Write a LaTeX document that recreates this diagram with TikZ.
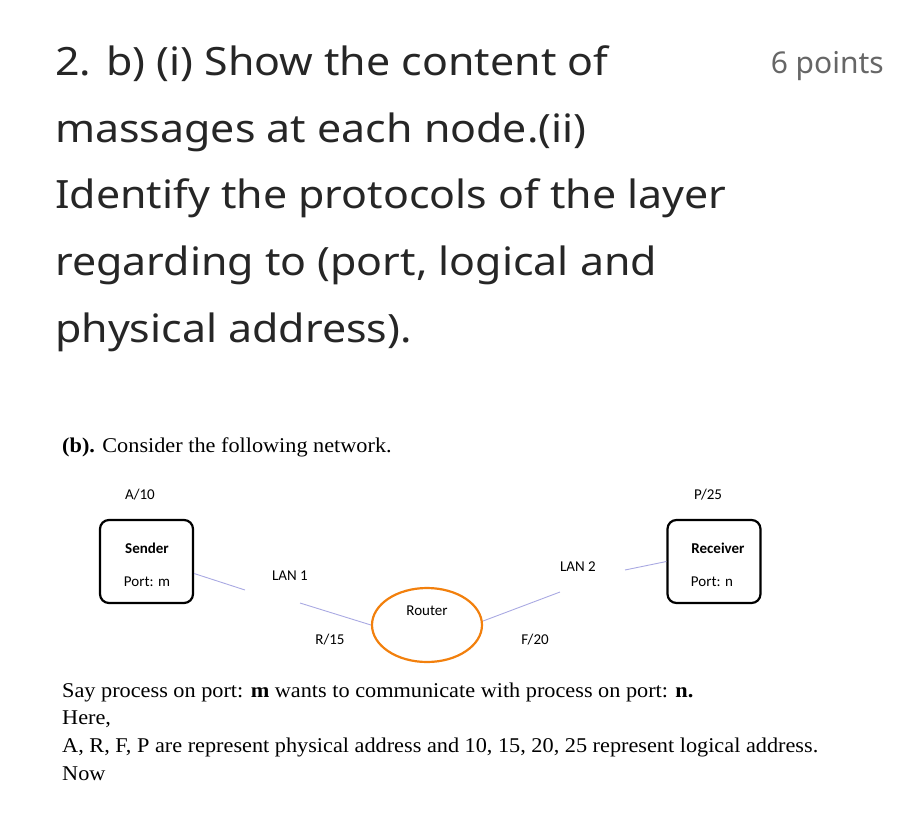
\documentclass[tikz,border=0pt]{standalone}
\usepackage{fontspec}
\usetikzlibrary{shapes.geometric}
\setmainfont{Noto Sans}
\newfontfamily\serif{Liberation Serif}
\newfontfamily\calfont{Carlito}
\begin{document}
\begin{tikzpicture}[x=1pt,y=-1pt,
  head/.style={anchor=base west,font=\fontsize{39}{42}\selectfont,text=black!85,xscale=1.1,transform shape},
  ser/.style={anchor=base west,font=\serif\fontsize{21}{24}\selectfont,inner sep=0,xscale=1.06,transform shape},
  lbl/.style={font=\calfont\fontsize{15}{17}\selectfont,inner sep=0},
  host/.style={draw,line width=2.2pt,rounded corners=9pt,minimum width=93pt,minimum height=83pt},
  wire/.style={draw=gray!50!blue!45,line width=0.9pt}]
\useasboundingbox (0,0) rectangle (922,820);
\node[head,inner sep=0] (h1) at (55,75) {2. b) (i) Show the content of};
\node[head,inner sep=0] (h2) at (55,142) {massages at each node.(ii)};
\node[head,inner sep=0] (h3) at (55,208) {Identify the protocols of the layer};
\node[head,inner sep=0] (h4) at (55,275) {regarding to (port, logical and};
\node[head,inner sep=0] (h5) at (55,342) {physical address).};
\node[anchor=base east,inner sep=0,font=\fontsize{30}{32}\selectfont,text=black!60] (pts) at (884,73) {6 points};
\node[ser] (c) at (62,452) {\textbf{(b).} Consider the following network.};
\node[host] (snd) at (146.5,561.5) {};
\node[host] (rcv) at (714,561.5) {};
\node[lbl,font=\calfont\bfseries\fontsize{15}{17}\selectfont] at (147,548) {Sender};
\node[lbl] at (147,582) {Port: m};
\node[lbl,font=\calfont\bfseries\fontsize{15}{17}\selectfont] at (718,548) {Receiver};
\node[lbl] at (712,582) {Port: n};
\node[lbl] (a10) at (140,495) {A/10};
\node[lbl] (p25) at (708,495) {P/25};
\node[draw=orange!80!brown,line width=2.2pt,ellipse,minimum width=110pt,minimum height=74pt] (rt) at (427,625) {};
\node[lbl] at (427,611) {Router};
\node[lbl] (lan1) at (290,576) {LAN 1};
\node[lbl] (lan2) at (578,567) {LAN 2};
\node[lbl] at (330,640) {R/15};
\node[lbl] at (535,640) {F/20};
\coordinate (l1a) at (245,590);
\coordinate (l1b) at (300,603);
\coordinate (l2a) at (560,592);
\coordinate (l2b) at (625,570);
\draw[wire] (snd.east) ++(0,12) -- (l1a);
\draw[wire] (l1b) -- (rt.west);
\draw[wire] (rt.east) ++(0,-4) -- (l2a);
\draw[wire] (l2b) -- (rcv.west);
\node[ser] at (62,697) {Say process on port: \textbf{m} wants to communicate with process on port: \textbf{n.}};
\node[ser] at (62,724) {Here,};
\node[ser] at (62,752) {A, R, F, P are represent physical address and 10, 15, 20, 25 represent logical address.};
\node[ser] at (62,780) {Now};
\end{tikzpicture}
\end{document}
